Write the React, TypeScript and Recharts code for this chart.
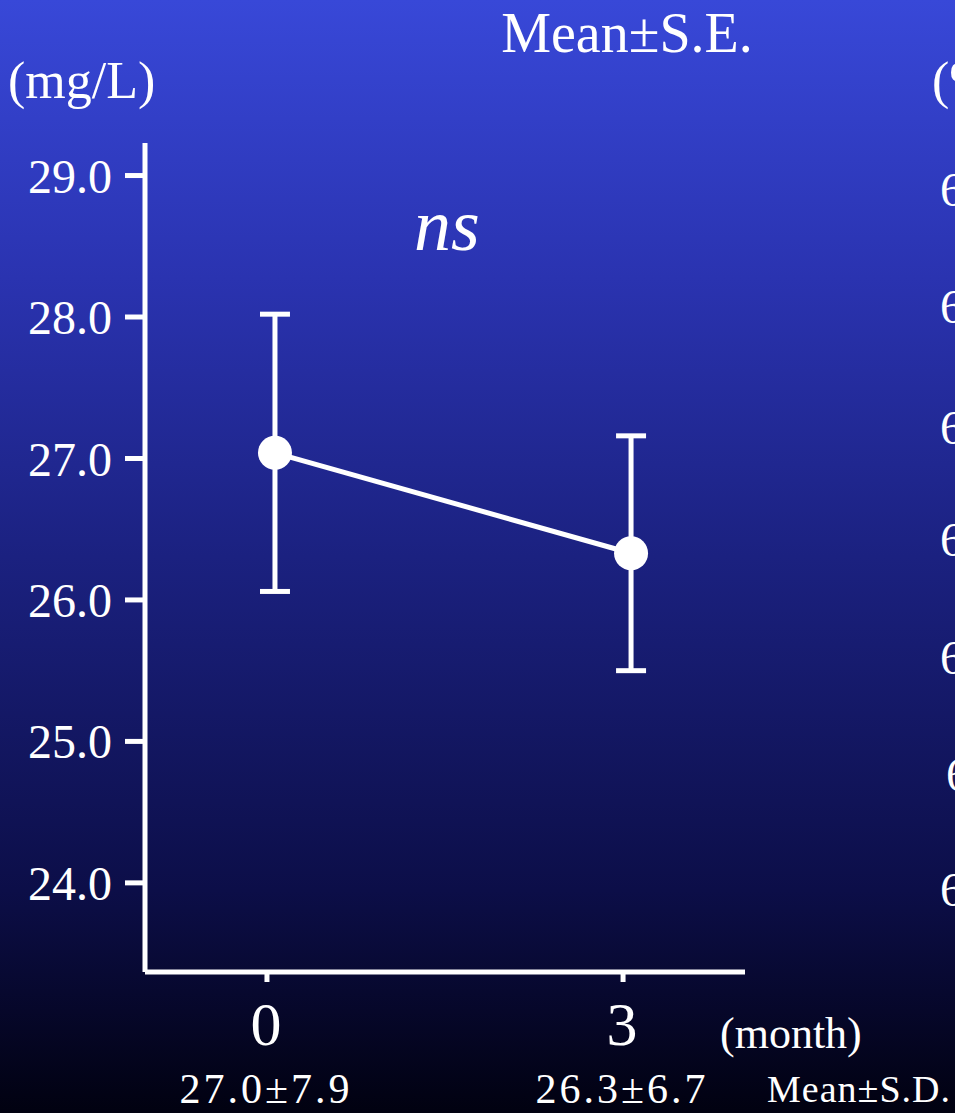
import React from 'react';
import { LineChart, Line, XAxis, YAxis, ErrorBar } from 'recharts';

const months = [0, 3];
const means = [27.04, 26.33];
const seValues = [0.98, 0.83];
const sdValues = [7.9, 6.7];
const yTicks = [24, 25, 26, 27, 28, 29];
const xTicks = [0, 3];
// tick labels of the neighbouring panel, clipped at the right edge
const rightPanelTicks = ['6', '6', '6', '6', '6', '6', '6'];

const data = months.map((m, i) => ({ month: m, mean: means[i], se: seValues[i], sd: sdValues[i] }));

const FONT = '"Liberation Serif", "DejaVu Serif", serif';
const W = 955;
const H = 1113;

function MonthTick(props: any) {
  const { x, y, payload } = props;
  const row = data.find((d) => d.month === payload.value);
  const cx = x - 9;
  return (
    <g>
      <line x1={x - 8} y1={y} x2={x - 8} y2={y + 10} stroke="#fff" strokeWidth={5} />
      <text x={cx} y={y + 73} textAnchor="middle" fill="#fff" fontSize={62} fontFamily={FONT}>
        {payload.value}
      </text>
      {row && (
        <text x={cx} y={y + 131} textAnchor="middle" fill="#fff" fontSize={42} letterSpacing={3} fontFamily={FONT}>
          {`${row.mean.toFixed(1)}±${row.sd.toFixed(1)}`}
        </text>
      )}
    </g>
  );
}

export default function App() {
  const rightY = [206, 323, 444, 556, 674, 791, 906];
  return (
    <div
      style={{
        position: 'absolute',
        left: 0,
        top: 0,
        width: W,
        height: H,
        overflow: 'hidden',
        background: 'linear-gradient(to bottom, #3848d8 0%, #2a33b0 25%, #1b2180 50%, #0c0e48 80%, #010110 100%)',
      }}
    >
      <LineChart
        width={W}
        height={H}
        data={data}
        margin={{ top: 143, right: 210, left: 45, bottom: 81 }}
      >
        <XAxis
          dataKey="month"
          type="number"
          domain={[-1.095, 3.96]}
          ticks={xTicks}
          allowDataOverflow
          axisLine={{ stroke: '#fff', strokeWidth: 5 }}
          tickLine={false}
          tickSize={0}
          tickMargin={0}
          height={60}
          tick={<MonthTick />}
          interval={0}
        />
        <YAxis
          type="number"
          domain={[23.37, 29.23]}
          ticks={yTicks}
          allowDataOverflow
          width={100}
          axisLine={{ stroke: '#fff', strokeWidth: 5 }}
          tickLine={{ stroke: '#fff', strokeWidth: 5 }}
          tickSize={20}
          tickMargin={13}
          tickFormatter={(v: number) => v.toFixed(1)}
          tick={{ fill: '#fff', fontSize: 48, fontFamily: FONT }}
          interval={0}
        />
        <Line
          dataKey="mean"
          stroke="#fff"
          strokeWidth={5}
          dot={{ r: 17, fill: '#fff', stroke: 'none' }}
          activeDot={false}
          isAnimationActive={false}
        >
          <ErrorBar dataKey="se" width={15} stroke="#fff" strokeWidth={5} direction="y" />
        </Line>
      </LineChart>
      <svg width={W} height={H} style={{ position: 'absolute', left: 0, top: 0, pointerEvents: 'none' }}>
        <text x={627} y={52} textAnchor="middle" fill="#fff" fontSize={56} fontFamily={FONT}>
          Mean±S.E.
        </text>
        <text x={8} y={98} fill="#fff" fontSize={52} fontFamily={FONT}>
          (mg/L)
        </text>
        <text x={447} y={250} textAnchor="middle" fill="#fff" fontSize={74} fontStyle="italic" fontFamily={FONT}>
          ns
        </text>
        <text x={720} y={1048} fill="#fff" fontSize={44} fontFamily={FONT}>
          (month)
        </text>
        <text x={767} y={1102} fill="#fff" fontSize={38} letterSpacing={1} fontFamily={FONT}>
          Mean±S.D.
        </text>
        <text x={932} y={98} fill="#fff" fontSize={52} fontFamily={FONT}>
          (%)
        </text>
        {rightPanelTicks.map((t, i) => (
          <text key={i} x={i === 5 ? 946 : 940} y={rightY[i]} fill="#fff" fontSize={48} fontFamily={FONT}>
            {t}
          </text>
        ))}
      </svg>
    </div>
  );
}
